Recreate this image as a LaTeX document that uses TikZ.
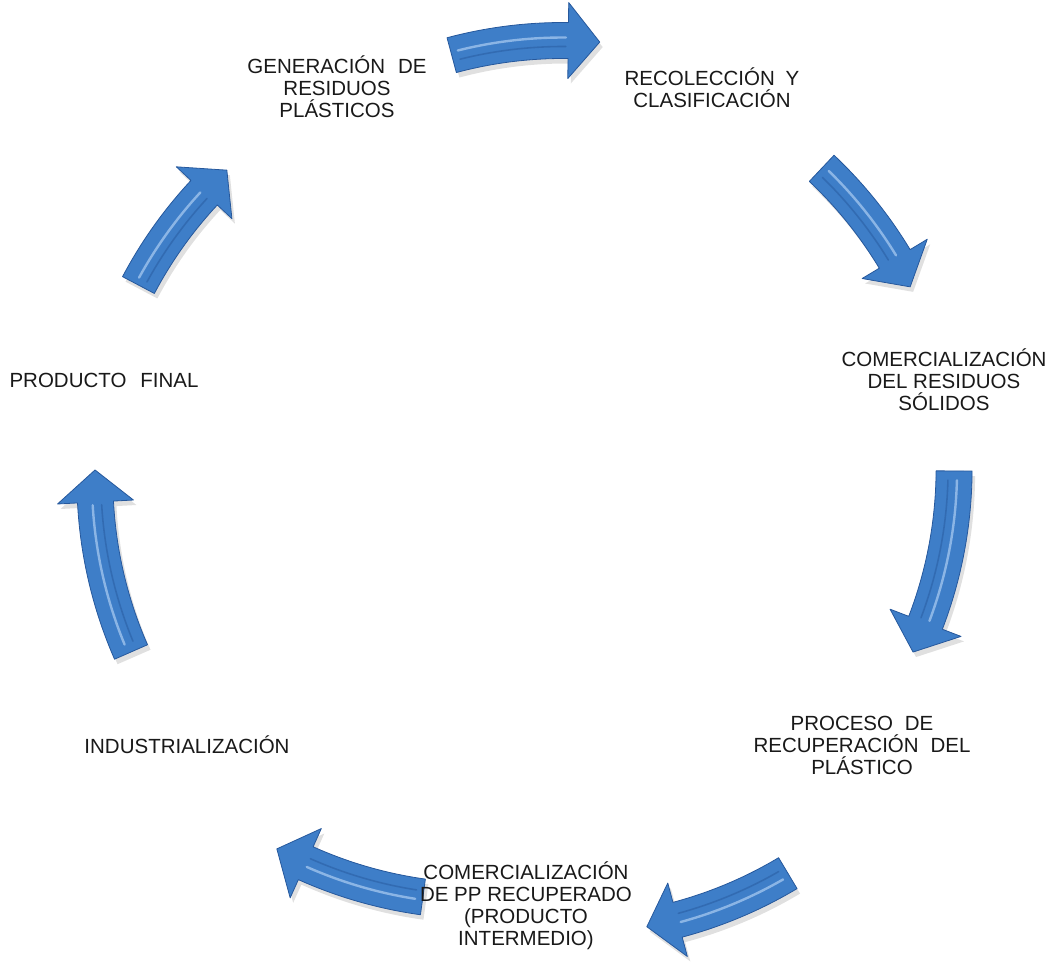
\documentclass[tikz,border=0pt]{standalone}
\usepackage{fontspec}
\setmainfont{Liberation Sans}
\begin{document}
\definecolor{arrowblue}{RGB}{62,126,200}
\definecolor{arrowedge}{RGB}{38,88,156}
\definecolor{arrowlight}{RGB}{165,200,240}
\definecolor{arrowdark}{RGB}{45,100,170}
\definecolor{labeltext}{RGB}{25,25,25}
\tikzset{
  lbl/.style={align=center, inner sep=0pt, text=labeltext,
    font=\fontsize{20.5}{22}\selectfont},
  arrowbody/.style={fill=arrowblue, draw=arrowedge, line width=0.8pt, line join=round},
  arrowshadow/.style={fill=black, opacity=0.12},
  arrowshine/.style={draw=arrowlight, line width=2.4pt, line cap=round, opacity=0.75},
  arrowshade/.style={draw=arrowdark, line width=1.6pt, line cap=round, opacity=0.7},
}
% #1 tail angle, #2 head base angle, #3 tip angle
\newcommand{\cyclearrowshape}[3]{%
  (#1:448pt) arc[start angle=#1, end angle=#2, radius=448pt]
  -- (#2:468pt) -- (#3:430pt) -- (#2:392pt) -- (#2:412pt)
  arc[start angle=#2, end angle=#1, radius=412pt] -- cycle}
\newcommand{\cyclearrow}[5]{%
  \begin{scope}[shift={(#1pt,#2pt)}]
    \begin{scope}[shift={(3pt,-5pt)}]
      \fill[arrowshadow] \cyclearrowshape{#3}{#4}{#5};
    \end{scope}
    \filldraw[arrowbody] \cyclearrowshape{#3}{#4}{#5};
    \pgfmathsetmacro{\shA}{#3+(#4-#3)*0.06}
    \pgfmathsetmacro{\shB}{#4-(#4-#3)*0.02}
    \draw[arrowshade] (\shA:424pt) arc[start angle=\shA, end angle=\shB, radius=424pt];
    \draw[arrowshine] (\shA:433pt) arc[start angle=\shA, end angle=\shB, radius=433pt];
  \end{scope}}
\begin{tikzpicture}[x=1pt,y=1pt]
\useasboundingbox (0,0) rectangle (1054,962);

% arrows (clockwise cycle)
\cyclearrow{563}{491.5}{105}{89.3}{85.1}
\cyclearrow{526.5}{481}{46.65}{31.1}{26.84}
\cyclearrow{524.1}{493.3}{-0.3}{-21.0}{-25.24}
\cyclearrow{567}{457.8}{-59.1}{-75.1}{-79.3}
\cyclearrow{482}{491}{-97.9}{-114.2}{-118.5}
\cyclearrow{524.9}{482.5}{203.65}{183}{178.73}
\cyclearrow{518.6}{476}{152.14}{137}{132.73}

% labels
\node[lbl] (gen) at (337,875) {GENERACIÓN\hspace{0.35em} DE\\RESIDUOS\\PLÁSTICOS};
\node[lbl] (rec) at (712,874) {RECOLECCIÓN\hspace{0.25em} Y\\CLASIFICACIÓN};
\node[lbl] (comres) at (944,582) {COMERCIALIZACIÓN\\DEL RESIDUOS\\SÓLIDOS};
\node[lbl] (proc) at (862,217) {PROCESO\hspace{0.3em} DE\\RECUPERACIÓN\hspace{0.3em} DEL\\PLÁSTICO};
\node[lbl] (compp) at (526,56.5) {COMERCIALIZACIÓN\\DE PP RECUPERADO\\(PRODUCTO\\INTERMEDIO)};
\node[lbl] (ind) at (187,217) {INDUSTRIALIZACIÓN};
\node[lbl] (prod) at (104,582) {PRODUCTO\hspace{0.4em} FINAL};
\end{tikzpicture}
\end{document}
